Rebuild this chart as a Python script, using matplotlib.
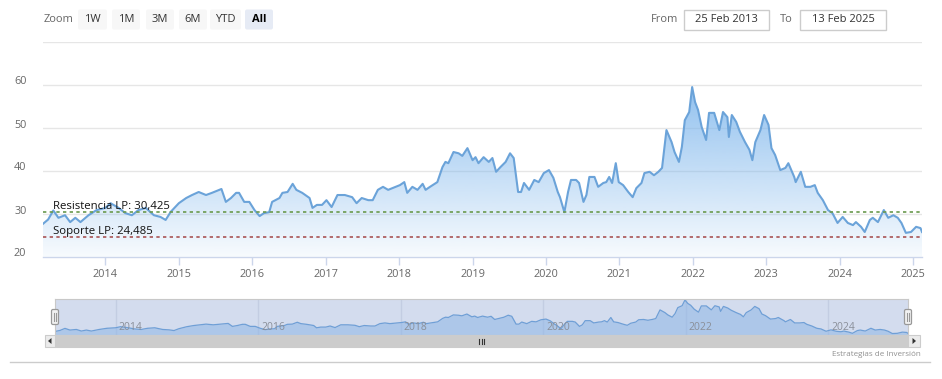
import matplotlib
matplotlib.use('Agg')
import matplotlib.pyplot as plt
import numpy as np
from matplotlib.patches import Rectangle, FancyBboxPatch, Polygon
from matplotlib.transforms import ScaledTranslation

plt.rcParams['font.family'] = ['Open Sans', 'DejaVu Sans']

# ---------------- data ----------------
dates = [2013.15, 2013.22, 2013.29, 2013.36, 2013.45, 2013.52, 2013.59, 2013.66, 2013.77, 2013.88,
         2014.00, 2014.07, 2014.18, 2014.27, 2014.36, 2014.45, 2014.55, 2014.66, 2014.75, 2014.82,
         2014.89, 2015.00, 2015.10, 2015.18, 2015.27, 2015.37, 2015.45, 2015.58, 2015.64, 2015.71,
         2015.78, 2015.82, 2015.89, 2015.96, 2016.03, 2016.10, 2016.16, 2016.23, 2016.27, 2016.37,
         2016.41, 2016.48, 2016.55, 2016.60, 2016.68, 2016.78, 2016.82, 2016.88, 2016.95, 2017.01,
         2017.08, 2017.16, 2017.26, 2017.36, 2017.42, 2017.49, 2017.58, 2017.64, 2017.71, 2017.78,
         2017.85, 2017.95, 2018.01, 2018.07, 2018.11, 2018.18, 2018.25, 2018.32, 2018.36, 2018.42,
         2018.52, 2018.59, 2018.63, 2018.67, 2018.74, 2018.81, 2018.86, 2018.93, 2019.00, 2019.04,
         2019.08, 2019.15, 2019.22, 2019.27, 2019.32, 2019.38, 2019.45, 2019.51, 2019.56, 2019.62,
         2019.66, 2019.70, 2019.77, 2019.84, 2019.90, 2019.97, 2020.04, 2020.10, 2020.16, 2020.19,
         2020.25, 2020.30, 2020.34, 2020.41, 2020.45, 2020.51, 2020.55, 2020.59, 2020.66, 2020.71,
         2020.78, 2020.82, 2020.86, 2020.90, 2020.95, 2020.99, 2021.05, 2021.12, 2021.18, 2021.23,
         2021.30, 2021.34, 2021.41, 2021.47, 2021.53, 2021.58, 2021.64, 2021.71, 2021.75, 2021.81,
         2021.85, 2021.89, 2021.95, 2021.99, 2022.03, 2022.07, 2022.12, 2022.18, 2022.22, 2022.29,
         2022.36, 2022.41, 2022.47, 2022.49, 2022.53, 2022.59, 2022.64, 2022.71, 2022.77, 2022.81,
         2022.85, 2022.92, 2022.97, 2023.03, 2023.07, 2023.12, 2023.19, 2023.26, 2023.30, 2023.38,
         2023.40, 2023.47, 2023.53, 2023.60, 2023.66, 2023.70, 2023.77, 2023.84, 2023.90, 2023.97,
         2024.04, 2024.11, 2024.18, 2024.22, 2024.29, 2024.34, 2024.41, 2024.45, 2024.52, 2024.60,
         2024.66, 2024.73, 2024.79, 2024.84, 2024.90, 2024.97, 2025.04, 2025.10, 2025.12]
prices = [27.6, 28.6, 30.7, 29.0, 29.6, 28.0, 29.0, 28.0, 29.6, 30.8,
          31.3, 32.4, 31.3, 30.1, 29.6, 30.8, 31.3, 29.6, 29.2, 28.5,
          30.4, 32.4, 33.6, 34.3, 35.0, 34.3, 34.8, 35.7, 32.7, 33.6,
          34.8, 34.8, 32.7, 32.7, 30.8, 29.4, 30.1, 30.3, 32.7, 33.6,
          34.8, 35.0, 36.9, 35.5, 34.8, 33.6, 31.3, 32.0, 32.0, 33.1,
          31.5, 34.3, 34.3, 33.8, 32.4, 33.6, 33.1, 33.1, 35.5, 36.2,
          35.5, 36.2, 36.6, 37.3, 34.8, 36.2, 35.5, 36.9, 35.5, 36.2,
          37.3, 40.8, 42.0, 41.7, 44.3, 44.0, 43.4, 45.2, 42.4, 43.1,
          41.7, 43.1, 42.0, 42.9, 39.7, 40.8, 42.0, 44.0, 42.9, 35.0,
          35.0, 37.1, 35.5, 37.8, 37.3, 39.4, 40.1, 38.3, 35.0, 33.8,
          30.3, 35.0, 37.8, 37.8, 37.1, 32.7, 34.3, 38.5, 38.5, 36.2,
          37.1, 37.3, 38.5, 37.1, 41.7, 37.3, 36.6, 35.0, 33.8, 35.9,
          37.1, 39.4, 39.7, 38.9, 39.7, 40.6, 49.4, 46.6, 44.3, 42.0,
          45.5, 51.7, 53.6, 59.4, 55.9, 54.1, 50.1, 47.1, 53.4, 53.4,
          49.4, 53.6, 52.4, 47.8, 52.9, 51.3, 49.0, 46.6, 44.8, 42.4,
          46.6, 49.4, 52.9, 50.6, 45.2, 43.6, 40.1, 40.6, 41.7, 38.5,
          37.3, 39.7, 36.2, 36.2, 36.6, 34.8, 33.1, 30.8, 30.1, 27.8,
          29.2, 27.8, 27.3, 28.0, 26.9, 25.7, 28.5, 29.0, 28.0, 30.8,
          29.0, 29.6, 29.0, 27.8, 25.5, 25.7, 26.9, 26.6, 25.7]

resistance = 30.425
support = 24.485
res_label = 'Resistencia LP: 30,425'
sup_label = 'Soporte LP: 24,485'
y_ticks = [20, 30, 40, 50, 60]
year_ticks = list(range(2014, 2026))
year_labels = [str(y) for y in year_ticks]
nav_ticks = [2014, 2016, 2018, 2020, 2022, 2024]
nav_labels = [str(y) for y in nav_ticks]
zoom_buttons = ['1W', '1M', '3M', '6M', 'YTD', 'All']
from_date = '25 Feb 2013'
to_date = '13 Feb 2025'
credits = 'Estrategias de Inversión'

# ---------------- figure ----------------
W, H = 942, 379
fig = plt.figure(figsize=(W / 100, H / 100), dpi=100)
fig.patch.set_facecolor('white')


def fr(x0, y0, x1, y1):
    return [x0 / W, 1 - y1 / H, (x1 - x0) / W, (y1 - y0) / H]


t = np.array(dates)
p = np.array(prices)
x0, x1 = t[0], t[-1]

# ---------------- main axes ----------------
ax = fig.add_axes(fr(43, 41.5, 922, 256.5))
ax.set_facecolor('none')
vals = np.linspace(20, 70, 300)
rgba = np.zeros((300, 1, 4))
rgba[..., 0] = 124 / 255
rgba[..., 1] = 181 / 255
rgba[..., 2] = 236 / 255
rgba[:, 0, 3] = np.clip(0.06 + (vals - 20) / 40 * 0.78, 0, 0.9)
im = ax.imshow(rgba, extent=[x0, x1, 20, 70], origin='lower', aspect='auto',
               zorder=1, interpolation='bilinear')
poly = ax.fill_between(t, p, 20, color='none', lw=0)
im.set_clip_path(poly.get_paths()[0], transform=ax.transData)
ax.plot(t, p, color='#6ba3d9', lw=1.5, zorder=3, solid_joinstyle='round')

ax.set_xlim(x0, x1)
ax.set_ylim(20, 70)
for yv in y_ticks[1:] + [70]:
    ax.axhline(yv, color='#e6e6e6', lw=1, zorder=0.5)
for s in ['top', 'left', 'right']:
    ax.spines[s].set_visible(False)
ax.spines['bottom'].set_color('#ccd6eb')
ax.spines['bottom'].set_linewidth(1)

ax.set_yticks(y_ticks)
ax.set_yticklabels([str(v) for v in y_ticks])
ax.tick_params(axis='y', length=0, pad=12, labelcolor='#666666', labelsize=7.8)
for lab in ax.get_yticklabels():
    lab.set_transform(lab.get_transform() + ScaledTranslation(0, 4 / 100, fig.dpi_scale_trans))
ax.set_xticks(year_ticks)
ax.set_xticklabels(year_labels)
ax.tick_params(axis='x', length=6, width=1, color='#ccd6eb', pad=3,
               labelcolor='#666666', labelsize=7.8)

ax.axhline(resistance, color='#6a9a4e', lw=1.2, ls=(0, (2, 2)), zorder=4)
ax.axhline(support, color='#a85454', lw=1.2, ls=(0, (2, 2)), zorder=4)
ax.annotate(res_label, xy=(0, resistance), xycoords=('axes fraction', 'data'),
            xytext=(10, 2.5), textcoords='offset pixels', va='baseline', ha='left',
            fontsize=8.2, color='#111111', zorder=5)
ax.annotate(sup_label, xy=(0, support), xycoords=('axes fraction', 'data'),
            xytext=(10, 3.5), textcoords='offset pixels', va='baseline', ha='left',
            fontsize=8.2, color='#111111', zorder=5)

# ---------------- navigator ----------------
nav = fig.add_axes(fr(55, 299, 908, 335))
nav.set_facecolor('#d3dcee')
nav.set_xlim(x0, x1)
nav.set_ylim(min(prices) - 1.5, max(prices) + 1.0)
for xv in nav_ticks:
    nav.axvline(xv, color='#c3cde2', lw=1, zorder=0.5)
    nav.annotate(str(xv), xy=(xv, 0.22), xycoords=('data', 'axes fraction'),
                 xytext=(3, 0), textcoords='offset pixels', va='center', ha='left',
                 fontsize=7.5, color='#8a8f99')
nav.fill_between(t, p, nav.get_ylim()[0], color='#8fb6e6', alpha=0.55, lw=0, zorder=1)
nav.plot(t, p, color='#6f9fd6', lw=0.9, zorder=2)
nav.set_xticks([])
nav.set_yticks([])
for s in nav.spines.values():
    s.set_color('#c8c8c8')
    s.set_linewidth(0.8)

# ---------------- overlay (toolbar, scrollbar, credits) ----------------
ov = fig.add_axes([0, 0, 1, 1], zorder=10)
ov.set_xlim(0, W)
ov.set_ylim(H, 0)
ov.axis('off')
ov.patch.set_alpha(0)

ov.text(44, 19.5, 'Zoom', ha='left', va='center', fontsize=8, color='#666666')
btn_x = [(78, 107), (112, 140), (146, 174), (179, 207), (210, 241), (245, 273)]
for (bx0, bx1), lab in zip(btn_x, zoom_buttons):
    sel = lab == 'All'
    ov.add_patch(FancyBboxPatch((bx0, 9.5), bx1 - bx0, 20,
                                boxstyle='round,pad=0,rounding_size=2',
                                fc='#e6ebf5' if sel else '#f7f7f7', ec='none'))
    ov.text((bx0 + bx1) / 2, 19.5, lab, ha='center', va='center', fontsize=8,
            color='#000000' if sel else '#333333',
            fontweight='bold' if sel else 'normal')

ov.text(651, 19.5, 'From', ha='left', va='center', fontsize=8, color='#666666')
ov.add_patch(Rectangle((684, 10), 85, 20, fc='white', ec='#cccccc', lw=1))
ov.text(726.5, 19.5, from_date, ha='center', va='center', fontsize=8, color='#333333')
ov.text(780, 19.5, 'To', ha='left', va='center', fontsize=8, color='#666666')
ov.add_patch(Rectangle((800, 10), 86, 20, fc='white', ec='#cccccc', lw=1))
ov.text(843, 19.5, to_date, ha='center', va='center', fontsize=8, color='#333333')

# navigator handles
for hx in (55, 908):
    ov.add_patch(FancyBboxPatch((hx - 3.5, 309.5), 7, 15,
                                boxstyle='round,pad=0,rounding_size=1.5',
                                fc='#f2f2f2', ec='#999999', lw=0.9))
    ov.plot([hx - 1, hx - 1], [313, 321], color='#999999', lw=0.8)
    ov.plot([hx + 1, hx + 1], [313, 321], color='#999999', lw=0.8)

# scrollbar
ov.add_patch(Rectangle((45, 335), 875, 12, fc='#f2f2f2', ec='none'))
ov.add_patch(Rectangle((55, 335), 853, 12, fc='#cccccc', ec='#cccccc', lw=0.8))
for bx in (45, 908):
    ov.add_patch(Rectangle((bx, 335), 12 if bx == 908 else 10, 12,
                           fc='#ebebeb', ec='#cccccc', lw=0.8))
ov.add_patch(Polygon([[51.5, 338], [48, 341], [51.5, 344]], closed=True, fc='#333333', ec='none'))
ov.add_patch(Polygon([[912.5, 338], [916, 341], [912.5, 344]], closed=True, fc='#333333', ec='none'))
for gx in (479, 481.5, 484):
    ov.plot([gx, gx], [338.5, 343.5], color='#333333', lw=0.8)

ov.text(921, 354, credits, ha='right', va='center', fontsize=5.8, color='#909090')
ov.plot([10, 930], [361.5, 361.5], color='#cccccc', lw=1)

fig.savefig('out.png', dpi=100, facecolor='white')
